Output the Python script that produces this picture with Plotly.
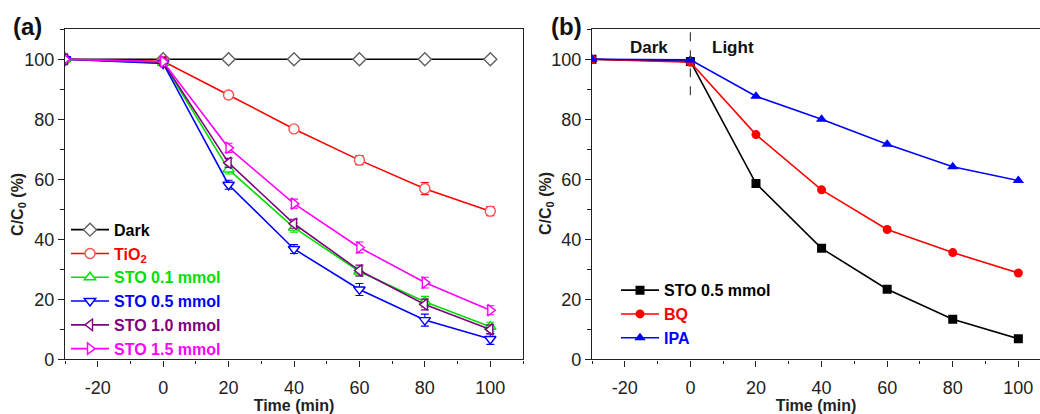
import plotly.graph_objects as go

# ---------------- data ----------------
time = [-30, 0, 20, 40, 60, 80, 100]

# panel (a)
names_a = ["Dark", "TiO<sub>2</sub>", "STO 0.1 mmol", "STO 0.5 mmol", "STO 1.0 mmol", "STO 1.5 mmol"]
dark = [100, 100, 100, 100, 100, 100, 100]
tio2 = [100, 99.3, 88.1, 76.8, 66.4, 56.9, 49.4]
sto01 = [100, 98.8, 63.3, 43.9, 29.3, 19.2, 10.9]
sto05 = [100, 98.6, 58.2, 36.8, 23.3, 13.1, 6.8]
sto10 = [100, 99.0, 65.5, 45.2, 29.6, 18.3, 10.0]
sto15 = [100, 99.2, 70.5, 51.9, 37.3, 25.6, 16.4]

err_dark = [0, 0, 0, 0, 0, 0, 0]
err_tio2 = [0, 0.8, 1.0, 1.0, 1.5, 2.0, 1.5]
err_sto01 = [0, 0.8, 1.5, 1.5, 1.5, 1.8, 1.5]
err_sto05 = [0, 0.8, 1.5, 1.5, 2.0, 2.0, 1.8]
err_sto10 = [0, 0.8, 1.5, 1.5, 1.8, 1.8, 1.5]
err_sto15 = [0, 0.8, 1.5, 1.5, 1.8, 1.8, 1.5]

# panel (b)
names_b = ["STO 0.5 mmol", "BQ", "IPA"]
b_sto05 = [100, 99.3, 58.6, 37.0, 23.4, 13.4, 6.9]
b_bq = [100, 99.0, 74.9, 56.5, 43.3, 35.6, 28.8]
b_ipa = [100, 99.8, 87.7, 80.0, 71.7, 64.2, 59.6]

x_ticks = [-20, 0, 20, 40, 60, 80, 100]
x_ticklabels = ["-20", "0", "20", "40", "60", "80", "100"]
y_ticks = [0, 20, 40, 60, 80, 100]
y_ticklabels = ["0", "20", "40", "60", "80", "100"]

x_title = "Time (min)"
y_title = "C/C<sub>0</sub> (%)"

# ---------------- style ----------------
FONT = "Arial, 'Liberation Sans', Helvetica, sans-serif"
W, H = 1040, 414
cols_a = ["#000000", "#FF0000", "#00E000", "#0000FF", "#800080", "#FF00FF"]
mark_line_a = ["#606060", "#FF5050", "#00E000", "#0000FF", "#800080", "#FF00FF"]
syms_a = ["diamond", "circle", "triangle-up", "triangle-down", "triangle-left", "triangle-right"]
series_a = [dark, tio2, sto01, sto05, sto10, sto15]
errs_a = [err_dark, err_tio2, err_sto01, err_sto05, err_sto10, err_sto15]

cols_b = ["#000000", "#FF0000", "#0000FF"]
syms_b = ["square", "circle", "triangle-up"]
series_b = [b_sto05, b_bq, b_ipa]

fig = go.Figure()

for name, y, e, c, mc, s in zip(names_a, series_a, errs_a, cols_a, mark_line_a, syms_a):
    fig.add_trace(go.Scatter(
        x=time, y=y, mode="lines+markers",
        name=f"<span style='color:{c}'>{name}</span>",
        line=dict(color=c, width=1.6),
        marker=dict(symbol=s, size=10, color="white", line=dict(color=mc, width=1.4)),
        error_y=dict(type="data", array=e, visible=True, color=c, thickness=1.1, width=4),
        xaxis="x", yaxis="y", legend="legend",
    ))

for name, y, c, s in zip(names_b, series_b, cols_b, syms_b):
    fig.add_trace(go.Scatter(
        x=time, y=y, mode="lines+markers",
        name=f"<span style='color:{c}'>{name}</span>",
        line=dict(color=c, width=1.6),
        marker=dict(symbol=s, size=9 if s != "triangle-up" else 10, color=c, line=dict(width=0)),
        xaxis="x2", yaxis="y2", legend="legend2",
    ))

ydom = [1 - 368.3 / H, 1 - 30 / H]

common_x = dict(
    tickvals=x_ticks, ticktext=x_ticklabels, ticks="outside", ticklen=6, tickwidth=1.3, tickcolor="#222",
    minor=dict(dtick=10, tick0=0, ticks="outside", ticklen=3.5, tickwidth=1.2, tickcolor="#222"),
    showline=True, linecolor="#222", linewidth=1.4, showgrid=False, zeroline=False,
    tickfont=dict(family=FONT, size=18, color="#222"), ticklabelstandoff=6,
    title=dict(text=x_title, font=dict(family=FONT, size=16, color="#222", weight="bold"), standoff=0),
)
common_y = dict(
    tickvals=y_ticks, ticktext=y_ticklabels, range=[0, 110], ticks="outside", ticklen=6, tickwidth=1.3,
    tickcolor="#222",
    minor=dict(dtick=10, tick0=0, ticks="outside", ticklen=3.5, tickwidth=1.2, tickcolor="#222"),
    showline=True, linecolor="#222", linewidth=1.4, showgrid=False, zeroline=False,
    tickfont=dict(family=FONT, size=18, color="#222"),
)

fig.update_layout(
    width=W, height=H,
    margin=dict(l=0, r=0, t=0, b=0),
    paper_bgcolor="white", plot_bgcolor="white",
    xaxis=dict(domain=[65 / W, 523 / W], range=[-30, 110], mirror=True, anchor="y", **common_x),
    yaxis=dict(domain=ydom, mirror=True, anchor="x", **common_y),
    xaxis2=dict(domain=[592 / W, 1.0], range=[-30, 106.6], mirror=True, anchor="y2", **common_x),
    yaxis2=dict(domain=ydom, mirror=False, anchor="x2", **common_y),
    legend=dict(
        x=66 / W, y=1 - 218 / H, xanchor="left", yanchor="top",
        bgcolor="rgba(0,0,0,0)", borderwidth=0,
        font=dict(family=FONT, size=16, weight="bold"),
        tracegroupgap=0, itemwidth=38,
    ),
    legend2=dict(
        x=616 / W, y=1 - 280 / H, xanchor="left", yanchor="top",
        bgcolor="rgba(0,0,0,0)", borderwidth=0,
        font=dict(family=FONT, size=16, weight="bold"),
        tracegroupgap=0, itemwidth=38,
    ),
    showlegend=True,
)

# dashed Dark/Light separator in (b)
fig.add_shape(type="line", xref="x2", yref="y2", x0=0, x1=0, y0=88, y1=109,
              line=dict(color="#444", width=1.2, dash="dash"))


def paper_text(text, px, py, size, angle=0, color="#111"):
    fig.add_annotation(text=text, xref="paper", yref="paper",
                       x=px / W, y=1 - py / H, xanchor="center", yanchor="middle",
                       showarrow=False, textangle=angle, borderpad=0,
                       font=dict(family=FONT, size=size, color=color, weight="bold"))


paper_text("(a)", 27.5, 27.5, 24)
paper_text("(b)", 566, 27.5, 24)
paper_text(y_title, 19, 210, 16, angle=-90, color="#222")
paper_text(y_title, 547, 209, 16, angle=-90, color="#222")

fig.add_annotation(text="Dark", xref="x2", yref="y2", x=-12.5, y=104, showarrow=False,
                   xanchor="center", yanchor="middle",
                   font=dict(family=FONT, size=17, color="#111", weight="bold"))
fig.add_annotation(text="Light", xref="x2", yref="y2", x=13, y=104, showarrow=False,
                   xanchor="center", yanchor="middle",
                   font=dict(family=FONT, size=17, color="#111", weight="bold"))

fig.write_html("out.html")
